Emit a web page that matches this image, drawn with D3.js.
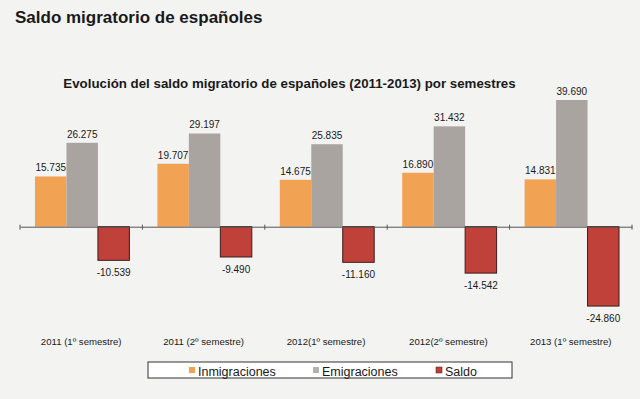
<!DOCTYPE html>
<html>
<head>
<meta charset="utf-8">
<script src="https://cdn.jsdelivr.net/npm/d3@7"></script>
<style>
	body { margin: 0; background: #f3f3f2; }
	text { font-family: "Liberation Sans", Arial, sans-serif; fill: #1a1a1a; }
</style>
</head>
<body>
<div id="wrapper"></div>
<script>
// data
const periods = ["2011 (1º semestre)", "2011 (2º semestre)", "2012(1º semestre)", "2012(2º semestre)", "2013 (1º semestre)"];
const inmigraciones = [15735, 19707, 14675, 16890, 14831];
const emigraciones = [26275, 29197, 25835, 31432, 39690];
const saldo = [-10539, -9490, -11160, -14542, -24860];
const seriesNames = ["Inmigraciones", "Emigraciones", "Saldo"];
const seriesColors = ["#f2a253", "#a9a4a0", "#c0403a"];

function fmt(v) {
	// spanish style thousands separator, plain hyphen for minus
	return d3.format(",")(v).replace(/,/g, ".").replace("\u2212", "-");
}

function drawChart() {
	const width = 640;
	const height = 399;

	const svg = d3.select("#wrapper")
		.append("svg")
		.attr("width", width)
		.attr("height", height);

	const table = periods.map(function(p, i) {
		return { period: p, values: [inmigraciones[i], emigraciones[i], saldo[i]] };
	});

	const xScale = d3.scaleBand()
		.domain(periods)
		.range([20, 632]);

	const inner = d3.scaleBand()
		.domain(seriesNames)
		.range([15, xScale.bandwidth() - 13]);

	const yScale = d3.scaleLinear()
		.domain([-25000, 40000])
		.range([306.5, 99]);

	// titles
	svg.append("text")
		.attr("x", 15)
		.attr("y", 23)
		.style("font-size", "17px")
		.style("font-weight", "bold")
		.text("Saldo migratorio de españoles");

	svg.append("text")
		.attr("x", 289.5)
		.attr("y", 88)
		.attr("text-anchor", "middle")
		.style("font-size", "13.3px")
		.style("font-weight", "bold")
		.text("Evolución del saldo migratorio de españoles (2011-2013) por semestres");

	const groups = svg.selectAll(".grp")
		.data(table)
		.enter().append("g")
		.attr("class", "grp")
		.attr("transform", function(d) { return "translate(" + xScale(d.period) + ",0)"; });

	const bars = groups.selectAll("rect")
		.data(function(d) {
			return d.values.map(function(v, j) { return { key: seriesNames[j], value: v, idx: j }; });
		})
		.enter();

	bars.append("rect")
		.attr("x", function(d) { return inner(d.key); })
		.attr("width", inner.bandwidth())
		.attr("y", function(d) { return yScale(Math.max(0, d.value)); })
		.attr("height", function(d) { return Math.abs(yScale(d.value) - yScale(0)); })
		.attr("fill", function(d) { return seriesColors[d.idx]; })
		.attr("stroke", function(d) { return d.idx == 2 ? "#3b1d1a" : "none"; })
		.attr("stroke-width", 1);

	bars.append("text")
		.attr("x", function(d) { return inner(d.key) + inner.bandwidth() / 2; })
		.attr("y", function(d) {
			return d.value >= 0 ? yScale(d.value) - 5 : yScale(d.value) + 16;
		})
		.attr("text-anchor", "middle")
		.style("font-size", "10px")
		.text(function(d) { return fmt(d.value); });

	// zero axis with ticks between groups
	const axis = d3.axisBottom(xScale).tickSize(0).tickFormat("");
	const axisG = svg.append("g")
		.attr("transform", "translate(0," + yScale(0) + ")")
		.call(axis);
	axisG.select(".domain").attr("stroke", "#555");
	axisG.selectAll(".edge")
		.data(periods.concat(["end"]))
		.enter().append("line")
		.attr("x1", function(d, i) { return i < periods.length ? xScale(d) : xScale.range()[1]; })
		.attr("x2", function(d, i) { return i < periods.length ? xScale(d) : xScale.range()[1]; })
		.attr("y1", -2)
		.attr("y2", 3)
		.attr("stroke", "#555");

	// category labels
	svg.selectAll(".cat")
		.data(periods)
		.enter().append("text")
		.attr("class", "cat")
		.attr("x", function(d) { return xScale(d) + xScale.bandwidth() / 2; })
		.attr("y", 345)
		.attr("text-anchor", "middle")
		.style("font-size", "9.6px")
		.text(function(d) { return d; });

	// legend
	const legend = svg.append("g");
	legend.append("rect")
		.attr("x", 148)
		.attr("y", 362)
		.attr("width", 364)
		.attr("height", 16)
		.attr("fill", "#fff")
		.attr("stroke", "#333");

	const legendX = [189, 313, 436];
	const items = legend.selectAll(".item")
		.data(seriesNames)
		.enter().append("g")
		.attr("transform", function(d, i) { return "translate(" + legendX[i] + ",367)"; });
	items.append("rect")
		.attr("width", 6)
		.attr("height", 6)
		.attr("fill", function(d, i) { return i == 1 ? "#b4b1ae" : seriesColors[i]; })
		.attr("stroke", function(d, i) { return i == 2 ? "#3b1d1a" : "none"; })
		.attr("stroke-width", 0.5);
	items.append("text")
		.attr("x", 9)
		.attr("y", 8.5)
		.style("font-size", "12.5px")
		.text(function(d) { return d; });
}
drawChart();
</script>
</body>
</html>
